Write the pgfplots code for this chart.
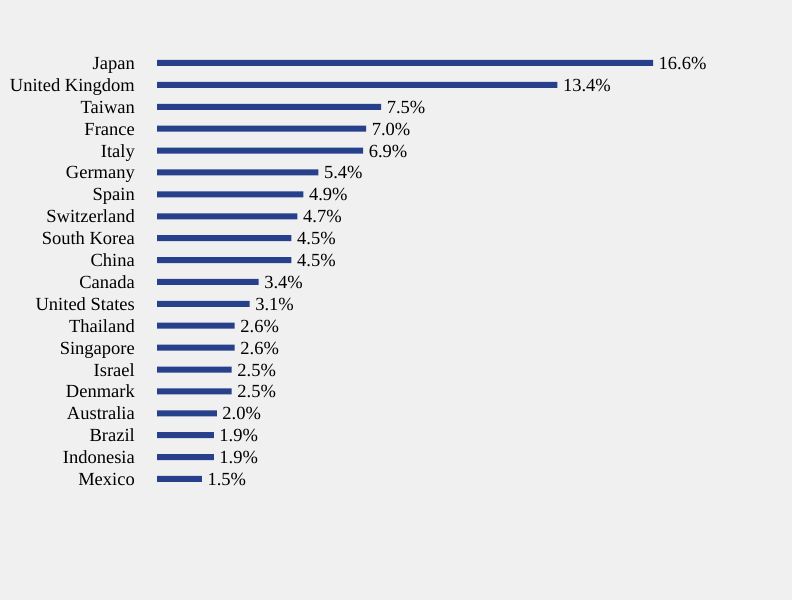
\documentclass[border=0pt]{standalone}
\usepackage{pgfplots}
\pgfplotsset{compat=1.18}
\usepackage{fontspec}
\setmainfont{LiberationSerif}[Extension=.ttf, UprightFont=*-Regular, BoldFont=*-Bold]
\definecolor{bg}{HTML}{F0F0F0}
\definecolor{barblue}{HTML}{26408B}
\begin{document}
\begin{tikzpicture}
\fill[bg] (0,0) rectangle (792bp,600bp);
\begin{axis}[
  at={(157bp,121bp)}, anchor=south west,
  scale only axis,
  width=496bp, height=416bp,
  xmin=0, xmax=16.6,
  ymin=0, ymax=19,
  hide x axis,
  axis y line*=left,
  y axis line style={draw=none},
  major tick length=0pt,
  clip=false,
  ytick={0,...,19},
  yticklabels={Mexico,Indonesia,Brazil,Australia,Denmark,Israel,Singapore,Thailand,United States,Canada,China,South Korea,Switzerland,Spain,Germany,Italy,France,Taiwan,United Kingdom,Japan},
  yticklabel style={font=\rmfamily\fontsize{18.5bp}{20bp}\selectfont, anchor=base east, inner sep=0pt, xshift=-22bp, yshift=-6.5bp},
  xbar, bar width=6bp,
  /pgf/number format/assume math mode=true,
  nodes near coords={\pgfmathprintnumber[fixed,fixed zerofill,precision=1,assume math mode=true]{\pgfplotspointmeta}\%},
  nodes near coords style={font=\rmfamily\fontsize{18.5bp}{20bp}\selectfont, anchor=base west, inner sep=0pt, xshift=5.5bp, yshift=-6.5bp, text=black},
  point meta=explicit,
]
\addplot[fill=barblue, draw=none] coordinates {
(1.5,0) [1.5]
(1.9,1) [1.9]
(1.9,2) [1.9]
(2.0,3) [2.0]
(2.5,4) [2.5]
(2.5,5) [2.5]
(2.6,6) [2.6]
(2.6,7) [2.6]
(3.1,8) [3.1]
(3.4,9) [3.4]
(4.5,10) [4.5]
(4.5,11) [4.5]
(4.7,12) [4.7]
(4.9,13) [4.9]
(5.4,14) [5.4]
(6.9,15) [6.9]
(7.0,16) [7.0]
(7.5,17) [7.5]
(13.4,18) [13.4]
(16.6,19) [16.6]
};
\end{axis}
\end{tikzpicture}
\end{document}
